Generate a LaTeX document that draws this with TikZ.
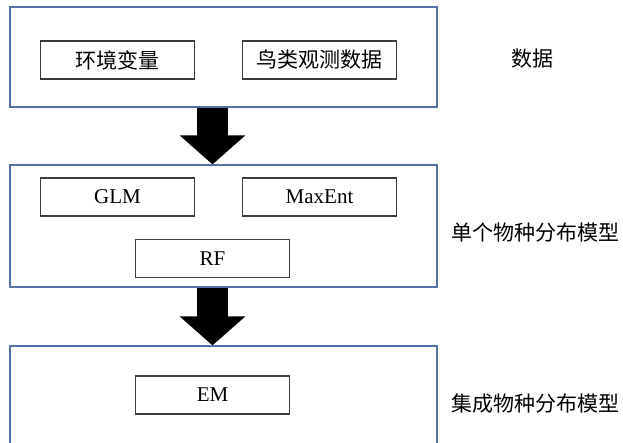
\documentclass[tikz,border=0pt]{standalone}
\usepackage{fontspec}
\setmainfont{Liberation Serif}
\newfontfamily\cjk{Noto Sans CJK SC}
\usetikzlibrary{arrows.meta}

\definecolor{frameblue}{RGB}{84,114,168}
\definecolor{boxgray}{RGB}{60,60,60}

\tikzset{
  groupbox/.style={draw=frameblue, line width=1.2pt, minimum width=427pt},
  itembox/.style={draw=boxgray, line width=1.2pt, minimum width=154pt, minimum height=38pt, inner sep=0pt, font=\fontsize{21}{24}\selectfont},
  stagelabel/.style={inner sep=0pt, font=\fontsize{21}{24}\selectfont\cjk},
  bigarrow/.style={line width=31pt, -{Triangle[width=64pt,length=29pt]}}
}

\begin{document}
\begin{tikzpicture}[x=1pt, y=-1pt]

\useasboundingbox (0,0) rectangle (623,442);
\clip (0,0) rectangle (623,442);

\node[groupbox, minimum height=100pt] (data) at (223.5,57) {};
\node[itembox] (env) at (117.5,60) {\cjk 环境变量};
\node[itembox] (bird) at (319.5,60) {\cjk 鸟类观测数据};
\node[stagelabel] (datalabel) at (532.5,59) {数据};

\node[groupbox, minimum height=122pt] (single) at (223.5,226) {};
\node[itembox] (glm) at (117.5,197) {GLM};
\node[itembox] (maxent) at (319.5,197) {MaxEnt};
\node[itembox] (rf) at (212.5,258.5) {RF};
\node[stagelabel, anchor=west] (singlelabel) at (451,233) {单个物种分布模型};

\node[groupbox, minimum height=140pt] (ensemble) at (223.5,416) {};
\node[itembox] (em) at (212.5,395) {EM};
\node[stagelabel, anchor=west] (enslabel) at (451,404) {集成物种分布模型};

\draw[bigarrow] ([xshift=-11pt]data.south) -- ([xshift=-11pt]single.north);
\draw[bigarrow] ([xshift=-11pt]single.south) -- ([xshift=-11pt]ensemble.north);

\end{tikzpicture}
\end{document}
